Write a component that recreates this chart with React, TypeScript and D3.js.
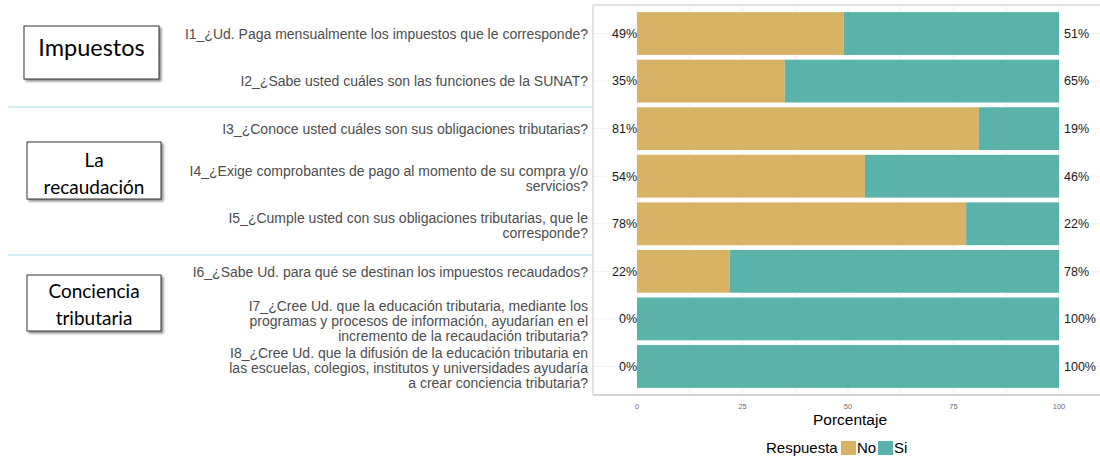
import * as d3 from 'd3'

// Preguntas (cada una puede ocupar varias líneas)
const questions = ['I1', 'I2', 'I3', 'I4', 'I5', 'I6', 'I7', 'I8']
const questionLines = [
	['I1_¿Ud. Paga mensualmente los impuestos que le corresponde?'],
	['I2_¿Sabe usted cuáles son las funciones de la SUNAT?'],
	['I3_¿Conoce usted cuáles son sus obligaciones tributarias?'],
	['I4_¿Exige comprobantes de pago al momento de su compra y/o', 'servicios?'],
	['I5_¿Cumple usted con sus obligaciones tributarias, que le', 'corresponde?'],
	['I6_¿Sabe Ud. para qué se destinan los impuestos recaudados?'],
	[
		'I7_¿Cree Ud. que la educación tributaria, mediante los',
		'programas y procesos de información, ayudarían en el',
		'incremento de la recaudación tributaria?',
	],
	[
		'I8_¿Cree Ud. que la difusión de la educación tributaria en',
		'las escuelas, colegios, institutos y universidades ayudaría',
		'a crear conciencia tributaria?',
	],
]
const noPct = [49, 35, 81, 54, 78, 22, 0, 0]
const siPct = [51, 65, 19, 46, 22, 78, 100, 100]
const xTicks = [0, 25, 50, 75, 100]
const responses = ['No', 'Si']
const colors = ['#d8b265', '#5ab2aa']

// Grupos (cajas a la izquierda)
const groupNames = [['Impuestos'], ['La', 'recaudación'], ['Conciencia', 'tributaria']]

const W = 1100
const H = 462
const panel = { left: 593, right: 1101, top: 5, bottom: 395 }

export default function App() {
	const x = d3.scaleLinear().domain([0, 100]).range([637, 1059])
	const y = d3
		.scaleBand<string>()
		.domain(questions)
		.range([panel.top, panel.bottom])
		.paddingInner(0.1)
		.paddingOuter(0.15)
	const bw = y.bandwidth()
	const cy = (q: string) => (y(q) as number) + bw / 2
	const color = d3.scaleOrdinal<string, string>().domain(responses).range(colors)
	const minor = d3.range(0, 100.1, 12.5)
	const lineH = 15

	// cajas de grupo: posiciones fijas de la imagen (base = línea base de la primera línea)
	const boxes = [
		{ x: 24, y: 26, w: 135, h: 53, fs: 23.5, base: 55.5 },
		{ x: 27, y: 142, w: 134, h: 57, fs: 19, base: 167.3 },
		{ x: 27, y: 275, w: 134, h: 56, fs: 19, base: 297.5 },
	]
	const boxLineH = 27
	const dividers = [107, 255]

	return (
		<svg
			width={W}
			height={H}
			style={{ position: 'absolute', left: 0, top: 0, background: '#fff' }}
			fontFamily="'Liberation Sans', Arial, sans-serif"
		>
			<defs>
				<filter id="shadow" x="-10%" y="-10%" width="130%" height="140%">
					<feDropShadow dx="2" dy="2" stdDeviation="1.2" floodColor="#000" floodOpacity="0.45" />
				</filter>
			</defs>

			{/* separadores */}
			{dividers.map(d => (
				<line key={d} x1={8} x2={592} y1={d} y2={d} stroke="#a6dbe7" strokeWidth={1.2} />
			))}

			{/* panel */}
			{minor.map(t => (
				<line key={t} x1={x(t)} x2={x(t)} y1={panel.top} y2={panel.bottom} stroke="#f1f1f1" strokeWidth={1} />
			))}
			{questions.map(q => (
				<line key={q} x1={panel.left} x2={panel.right} y1={cy(q)} y2={cy(q)} stroke="#f1f1f1" strokeWidth={1} />
			))}
			<line x1={panel.left} x2={panel.right} y1={panel.top} y2={panel.top} stroke="#d9d9d9" strokeWidth={1.5} />
			<line x1={panel.left} x2={panel.left} y1={panel.top} y2={panel.bottom} stroke="#d9d9d9" strokeWidth={1.5} />
			<line x1={panel.left} x2={panel.right} y1={panel.bottom} y2={panel.bottom} stroke="#c4c4c4" strokeWidth={1.5} />

			{/* barras apiladas */}
			{questions.map((q, i) => (
				<g key={q}>
					<rect x={x(0)} y={y(q)} width={x(noPct[i]) - x(0)} height={bw} fill={color('No')} />
					<rect x={x(noPct[i])} y={y(q)} width={x(100) - x(noPct[i])} height={bw} fill={color('Si')} />
					<text x={x(0)} y={cy(q)} dy="0.35em" textAnchor="end" fontSize={12.5} fill="#1a1a1a">
						{noPct[i]}%
					</text>
					<text x={x(100) + 5} y={cy(q)} dy="0.35em" textAnchor="start" fontSize={12.5} fill="#1a1a1a">
						{siPct[i]}%
					</text>
				</g>
			))}

			{/* etiquetas de preguntas */}
			{questions.map((q, i) => {
				const lines = questionLines[i]
				const shift = lines.length > 1 ? 2 : 0.5
				const y0 = cy(q) + shift - ((lines.length - 1) * lineH) / 2
				return (
					<text key={q} x={588} textAnchor="end" fontSize={14} fill="#4d4d4d">
						{lines.map((l, j) => (
							<tspan key={j} x={588} y={y0 + j * lineH} dy="0.35em">
								{l}
							</tspan>
						))}
					</text>
				)
			})}

			{/* eje x */}
			{xTicks.map(t => (
				<text key={t} x={x(t)} y={406} dy="0.35em" textAnchor="middle" fontSize={7.5} fill="#6e6e6e">
					{t}
				</text>
			))}
			<text x={850} y={420} dy="0.35em" textAnchor="middle" fontSize={15.5} fill="#000">
				Porcentaje
			</text>

			{/* leyenda */}
			<text x={766} y={448} dy="0.35em" fontSize={15} fill="#000">
				Respuesta
			</text>
			{responses.map((r, i) => {
				const bx = [841, 878][i]
				return (
					<g key={r}>
						<rect x={bx} y={441} width={15} height={14} fill={color(r)} />
						<text x={bx + 16} y={448} dy="0.35em" fontSize={15} fill="#000">
							{r}
						</text>
					</g>
				)
			})}

			{/* cajas de grupo */}
			{boxes.map((b, i) => (
				<g key={i}>
					<rect x={b.x} y={b.y} width={b.w} height={b.h} fill="#fff" stroke="#333" strokeWidth={1} filter="url(#shadow)" />
					<text textAnchor="middle" fontFamily="Lato, 'Open Sans', sans-serif" fontSize={b.fs} fill="#000">
						{groupNames[i].map((l, j) => (
							<tspan key={j} x={b.x + b.w / 2} y={b.base + j * boxLineH}>
								{l}
							</tspan>
						))}
					</text>
				</g>
			))}
		</svg>
	)
}
